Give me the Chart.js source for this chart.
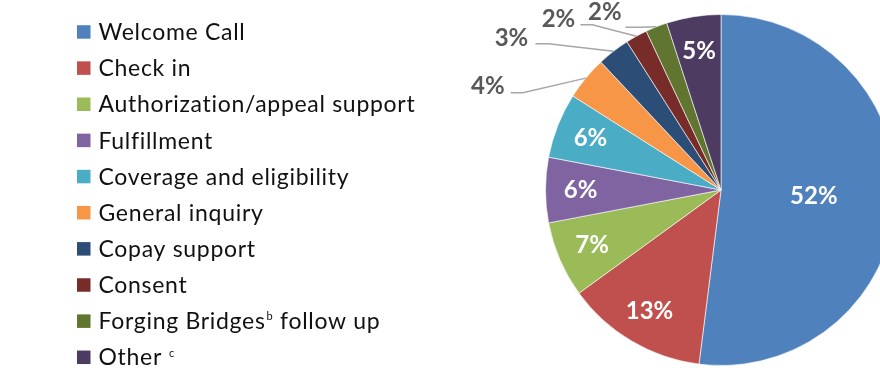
<!DOCTYPE html>
<html>
<head>
<meta charset="utf-8">
<script src="https://cdn.jsdelivr.net/npm/chart.js@4"></script>
<style>
  html, body { margin: 0; padding: 0; background: #fff; overflow: hidden; }
  #wrap { width: 880px; height: 376px; overflow: hidden; position: relative; }
  #box { width: 1000px; height: 376px; position: absolute; left: 0; top: 0; }
</style>
</head>
<body>
<div id="wrap"><div id="box"><canvas id="contactPie"></canvas></div></div>
<script>
const categories = [
  'Welcome Call',
  'Check in',
  'Authorization/appeal support',
  'Fulfillment',
  'Coverage and eligibility',
  'General inquiry',
  'Copay support',
  'Consent',
  'Forging Bridges',
  'Other'
]
// superscript footnote marks and the text that follows them in the legend
const footnotes = ['', '', '', '', '', '', '', '', 'b', 'c']
const labelTails = ['', '', '', '', '', '', '', '', ' follow up', '']
const shares = [52, 13, 7, 6, 6, 4, 3, 2, 2, 5]
const sliceColors = [
  '#4F81BD', '#C0504D', '#9BBB59', '#8064A2', '#4BACC6',
  '#F79646', '#2C4D75', '#772C2A', '#5F7530', '#4D3B62'
]

// where the small outside labels sit, relative to the point on the slice rim
const outsideOffsets = {
  5: { text: [-98, 8], start: [-75, 14.5], elbow: [-63, 14.5] },
  6: { text: [-102, -13], start: [-78, -7.6], elbow: [-65, -7.6] },
  7: { text: [-78, -17.3], start: [-56, -11.5], elbow: [-44, -11.5] },
  8: { text: [-51.5, -14.3], start: [-31, 0.4], elbow: [-16, 0.4] }
}

const sideLegend = {
  id: 'sideLegend',
  afterDraw(chart) {
    const ctx = chart.ctx
    ctx.save()
    ctx.textBaseline = 'middle'
    ctx.textAlign = 'left'
    ctx.letterSpacing = '0.7px'
    categories.forEach((name, i) => {
      const y = 31.7 + i * 36.15
      ctx.fillStyle = sliceColors[i]
      ctx.fillRect(77, y - 6.5, 13.5, 13.5)
      ctx.fillStyle = '#111'
      ctx.font = '23px Lato'
      let x = 98.5
      ctx.fillText(name, x, y + 1)
      x += ctx.measureText(name).width
      if (footnotes[i]) {
        if (!labelTails[i]) x += 6
        ctx.font = '11px Lato'
        ctx.fillText(footnotes[i], x + 1, y - 4)
        x += ctx.measureText(footnotes[i]).width + 1
        ctx.font = '23px Lato'
        ctx.fillText(labelTails[i], x, y + 1)
      }
    })
    ctx.restore()
  }
}

const sliceLabels = {
  id: 'sliceLabels',
  afterDatasetsDraw(chart) {
    const ctx = chart.ctx
    const meta = chart.getDatasetMeta(0)
    ctx.save()
    ctx.textAlign = 'center'
    ctx.textBaseline = 'middle'
    ctx.font = 'bold 24px Lato'
    meta.data.forEach((arc, i) => {
      const { x, y, startAngle, endAngle, outerRadius } = arc.getProps(['x', 'y', 'startAngle', 'endAngle', 'outerRadius'], true)
      const mid = (startAngle + endAngle) / 2
      const text = shares[i] + '%'
      const off = outsideOffsets[i]
      if (!off) {
        const f = shares[i] > 40 ? 0.53 : 0.8
        ctx.fillStyle = '#fff'
        ctx.fillText(text, x + Math.cos(mid) * outerRadius * f, y + Math.sin(mid) * outerRadius * f)
        return
      }
      const ex = x + Math.cos(mid) * outerRadius
      const ey = y + Math.sin(mid) * outerRadius
      ctx.strokeStyle = '#a6a6a6'
      ctx.lineWidth = 1.5
      ctx.beginPath()
      ctx.moveTo(ex + off.start[0], ey + off.start[1])
      ctx.lineTo(ex + off.elbow[0], ey + off.elbow[1])
      ctx.lineTo(ex, ey)
      ctx.stroke()
      ctx.fillStyle = '#595959'
      ctx.fillText(text, ex + off.text[0], ey + off.text[1])
    })
    ctx.restore()
  }
}

const ctx = document.querySelector('#contactPie').getContext('2d')
const myChart = new Chart(ctx, {
  type: 'pie',
  data: {
    labels: categories,
    datasets: [{
      data: shares,
      backgroundColor: sliceColors,
      borderColor: 'rgba(255,255,255,0.6)',
      borderWidth: 1
    }]
  },
  options: {
    responsive: true,
    maintainAspectRatio: false,
    animation: false,
    layout: {
      padding: { left: 545, right: 103, top: 14, bottom: 10 }
    },
    plugins: {
      legend: { display: false },
      tooltip: { enabled: false }
    }
  },
  plugins: [sliceLabels, sideLegend]
})
</script>
</body>
</html>
